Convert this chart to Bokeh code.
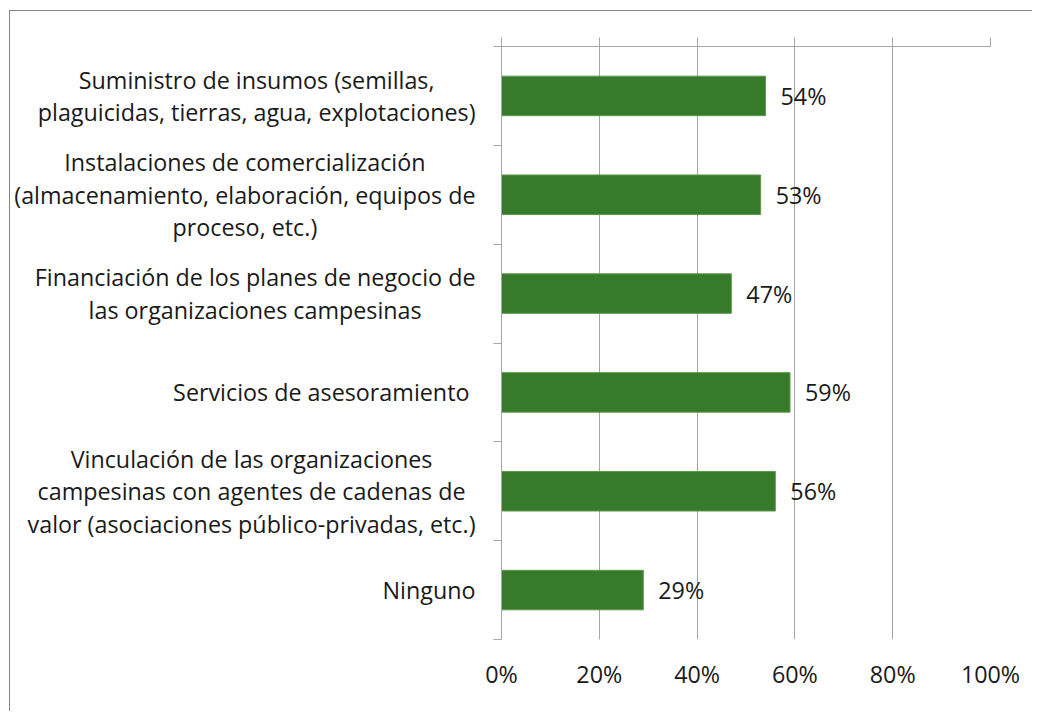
from bokeh.plotting import figure
from bokeh.layouts import row
from bokeh.models import (Range1d, LinearAxis, FixedTicker, ColumnDataSource,
                          LabelSet, Grid)
from bokeh.core.properties import value
from bokeh.embed import file_html
from bokeh.resources import INLINE

categories = [
    "Suministro de insumos (semillas,\nplaguicidas, tierras, agua, explotaciones)",
    "Instalaciones de comercialización\n(almacenamiento, elaboración, equipos de\nproceso, etc.)",
    "Financiación de los planes de negocio de\nlas organizaciones campesinas",
    "Servicios de asesoramiento ",
    "Vinculación de las organizaciones\ncampesinas con agentes de cadenas de\nvalor (asociaciones público-privadas, etc.)",
    "Ninguno",
]
values = [0.54, 0.53, 0.47, 0.59, 0.56, 0.29]
x_ticks = [0, 0.2, 0.4, 0.6, 0.8, 1.0]
x_tick_labels = ["0%", "20%", "40%", "60%", "80%", "100%"]

FONT = "Open Sans"
FS = "23.3px"
TXT = "#1a1a1a"
GRID = "#a6a6a6"
BAR = "#387a2b"

n = len(categories)
pos = [i + 0.5 for i in range(n)]
labels = ["{:.0f}%".format(v * 100) for v in values]

y_range = Range1d(n, 0)
src = ColumnDataSource(dict(y=pos, v=values, lab=labels))

# ---- category label panel (left) ----
lab_xr = Range1d(0, 1)
lab_src = ColumnDataSource(dict(x=[lab_xr.end] * n, y=pos, t=categories))
pl = figure(width=471, height=700, output_backend="svg", toolbar_location=None,
            x_range=lab_xr, y_range=y_range,
            x_axis_location=None, y_axis_location=None,
            min_border_left=0, min_border_right=0,
            min_border_top=35, min_border_bottom=72)
pl.outline_line_color = None
pl.xgrid.visible = False
pl.ygrid.visible = False
pl.text(x="x", y="y", text="t", source=lab_src, x_offset=-6,
        anchor="center_right", text_align="center", text_baseline="middle",
        text_font=value(FONT), text_font_size=value(FS), text_color=TXT,
        text_line_height=1.01)

# ---- chart ----
p = figure(width=551, height=700, output_backend="svg", toolbar_location=None,
           x_range=Range1d(0, 1), y_range=y_range,
           x_axis_location=None, y_axis_location=None,
           min_border_left=20, min_border_right=42,
           min_border_top=35, min_border_bottom=72)
p.outline_line_color = None

p.hbar(y="y", right="v", left=0, height=0.4, source=src,
       fill_color=BAR, line_color="#5c9a4c", line_width=1)

# left category axis: ticks at category boundaries, no labels
yax = LinearAxis(ticker=FixedTicker(ticks=pos, minor_ticks=list(range(n + 1))),
                 major_label_overrides={pp: "" for pp in pos})
yax.major_tick_line_color = None
yax.minor_tick_line_color = GRID
yax.minor_tick_out = 8
yax.minor_tick_in = 0
yax.axis_line_color = GRID
yax.major_label_text_font_size = "0px"
yax.major_label_standoff = 0
p.add_layout(yax, "left")

# top value axis line with outward ticks (no labels)
xtop = LinearAxis(ticker=FixedTicker(ticks=x_ticks))
xtop.major_label_text_font_size = "0px"
xtop.major_label_text_color = None
xtop.major_tick_out = 9
xtop.major_tick_in = 0
xtop.major_tick_line_color = GRID
xtop.axis_line_color = GRID
xtop.minor_tick_line_color = None
p.add_layout(xtop, "above")

# bottom value labels
xbot = LinearAxis(ticker=FixedTicker(ticks=x_ticks),
                  major_label_overrides={t: l for t, l in zip(x_ticks, x_tick_labels)})
xbot.axis_line_color = None
xbot.major_tick_line_color = None
xbot.minor_tick_line_color = None
xbot.major_tick_out = 0
xbot.major_label_standoff = 18
xbot.major_label_text_font = FONT
xbot.major_label_text_font_size = FS
xbot.major_label_text_color = TXT
p.add_layout(xbot, "below")

p.xgrid.visible = False
p.ygrid.visible = False
p.add_layout(Grid(dimension=0, ticker=FixedTicker(ticks=x_ticks),
                  grid_line_color=GRID, grid_line_width=1))

p.add_layout(LabelSet(x="v", y="y", text="lab", source=src, x_offset=15,
                      text_baseline="middle", text_font=value(FONT),
                      text_font_size=value(FS), text_color=TXT))

layout = row(pl, p, spacing=0)
layout.styles = {"border-left": "1px solid #868686", "border-top": "1px solid #868686",
                 "margin-left": "9px", "margin-top": "10px", "background": "white"}

open("out.html", "w").write(file_html(layout, INLINE))
